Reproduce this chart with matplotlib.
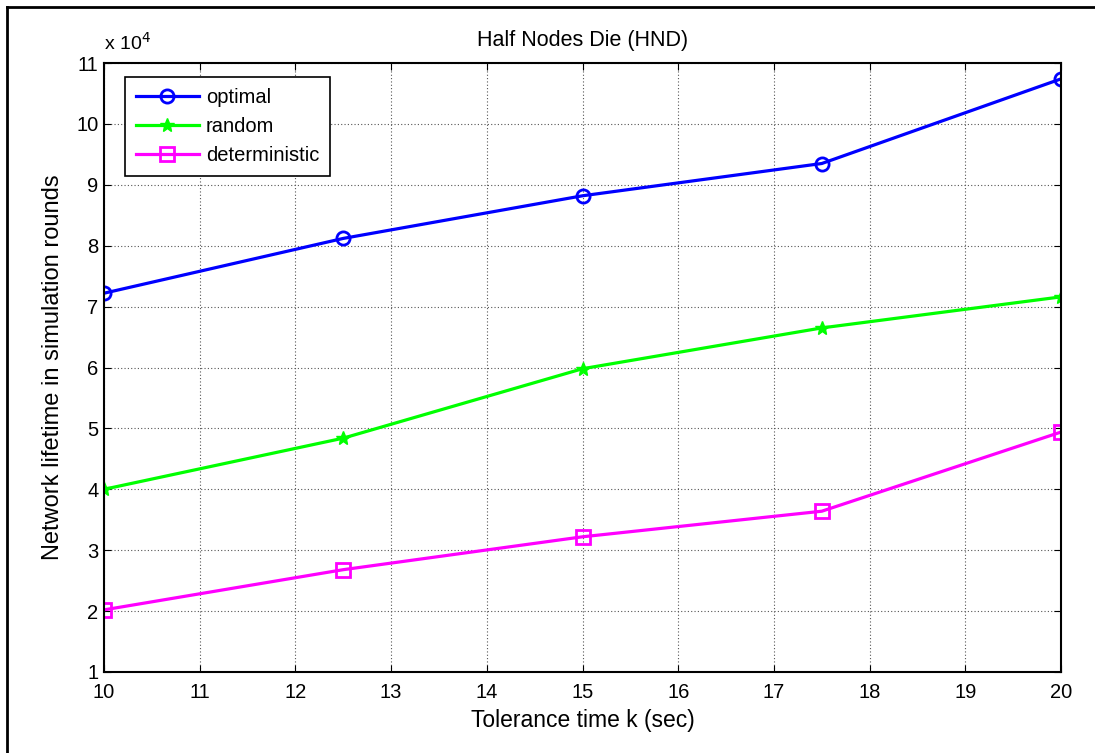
import matplotlib
matplotlib.use('Agg')
import matplotlib.pyplot as plt
from matplotlib.lines import Line2D

plt.rcParams['font.family'] = ['Liberation Sans', 'DejaVu Sans']

# data (values in units of 1e4 rounds)
k = [10, 12.5, 15, 17.5, 20]
optimal = [7.22, 8.12, 8.82, 9.35, 10.74]
random_ = [4.0, 4.84, 5.98, 6.65, 7.16]
deterministic = [2.02, 2.68, 3.22, 3.64, 4.94]

fig = plt.figure(figsize=(10.95, 7.53), dpi=100)
ax = fig.add_axes([0.095, 0.1076, 0.874, 0.8087])

ax.plot(k, optimal, color='#0000ff', lw=2.3, marker='o', ms=9.5, mfc='none', mew=2, label='optimal')
ax.plot(k, random_, color='#00ff00', lw=2.3, marker='*', ms=10, mew=1, label='random')
ax.plot(k, deterministic, color='#ff00ff', lw=2.3, marker='s', ms=9.5, mfc='none', mew=2, label='deterministic')

ax.set_xlim(10, 20)
ax.set_ylim(1, 11)
ax.set_xticks(range(10, 21))
ax.set_yticks(range(1, 12))
ax.tick_params(direction='in', labelsize=14.5, length=5, top=True, right=True)
ax.tick_params(axis='x', pad=8)
ax.tick_params(axis='y', pad=4)
ax.grid(True, color='#555555', linestyle=(0, (1, 2)), lw=0.8)
for s in ax.spines.values():
    s.set_linewidth(1.5)

ax.set_title('Half Nodes Die (HND)', fontsize=15.5, pad=12)
ax.set_xlabel('Tolerance time k (sec)', fontsize=16.5, labelpad=5)
ax.set_ylabel('Network lifetime in simulation rounds', fontsize=17, labelpad=9)
ax.text(0, 1.015, r'x 10$^4$', transform=ax.transAxes, fontsize=14, ha='left', va='bottom')

leg = ax.legend(loc='upper left', bbox_to_anchor=(0.022, 0.977), fontsize=14.5, fancybox=False,
                framealpha=1, edgecolor='black', borderpad=0.55, handlelength=3.1,
                handletextpad=0.35, labelspacing=0.5, borderaxespad=0)
leg.get_frame().set_linewidth(1.2)

# partial outer frame (left and top only)
fig.add_artist(Line2D([0.0065, 0.0065], [0.0, 0.9907], transform=fig.transFigure, color='black', lw=2))
fig.add_artist(Line2D([0.0065, 1.0], [0.9907, 0.9907], transform=fig.transFigure, color='black', lw=2))

fig.savefig('out.png', dpi=100)
